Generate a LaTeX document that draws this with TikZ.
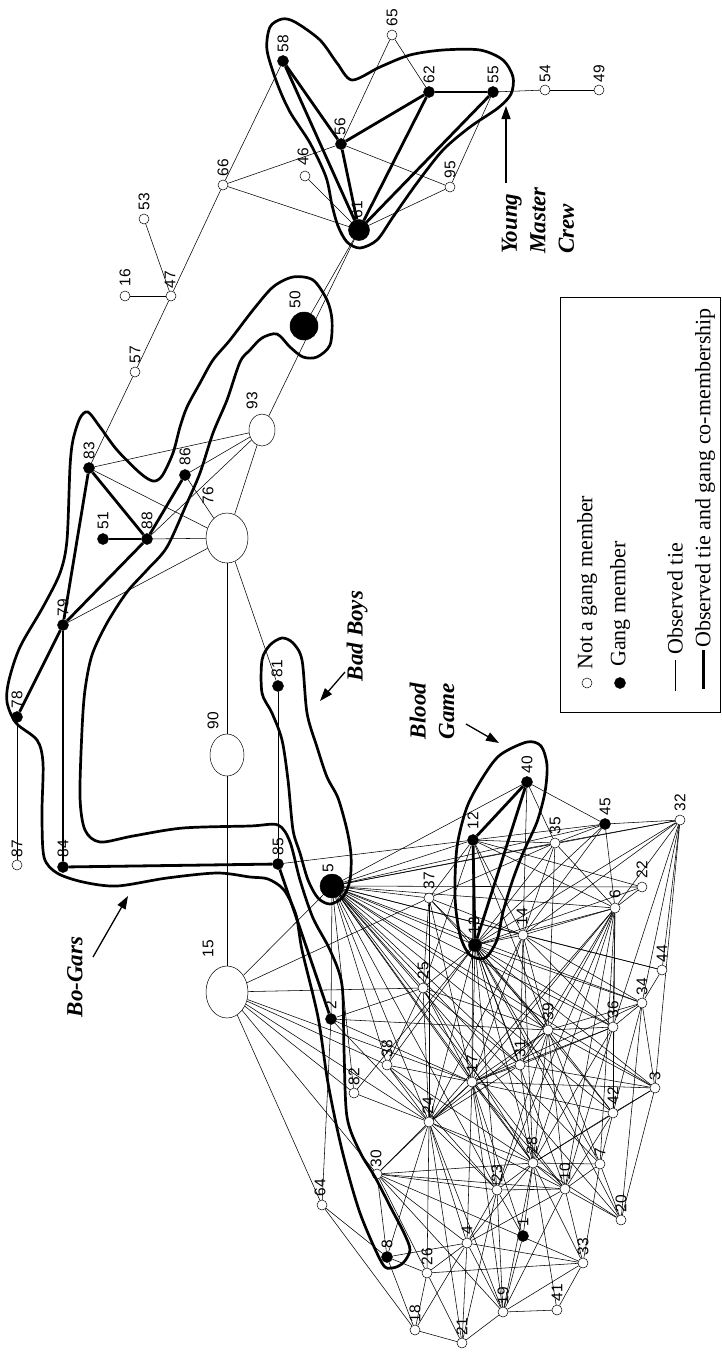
\documentclass[tikz,border=0pt]{standalone}
\usepackage{fontspec}
\setmainfont{Liberation Serif}
\newfontfamily\labfont{Liberation Sans}
\usetikzlibrary{arrows.meta, shapes.geometric, backgrounds, calc}

\begin{document}
\begin{tikzpicture}[x=1pt, y=-1pt,
    nonmem/.style={circle, draw, fill=white, line width=0.5pt, inner sep=0pt, minimum size=10pt},
    mem/.style={circle, draw, fill=black, line width=0.5pt, inner sep=0pt, minimum size=11pt},
    bignon/.style={ellipse, draw, fill=white, line width=0.5pt, inner sep=0pt},
    lab/.style={rotate=90, anchor=west, inner sep=0.5pt, font=\labfont\fontsize{15.5}{15.5}\selectfont},
    tie/.style={line width=0.55pt},
    cotie/.style={line width=2.8pt},
    hull/.style={line width=2.7pt, line join=round},
    gang/.style={rotate=90, font=\fontsize{23}{28.5}\selectfont\bfseries\itshape, align=left, inner sep=0pt},
    pointer/.style={line width=1.3pt, -{Triangle[length=13pt, width=9pt]}},
    legtext/.style={rotate=90, anchor=west, inner sep=0pt, font=\fontsize{22}{22}\selectfont}
  ]
    \useasboundingbox (0,0) rectangle (722,1353);

    % gang members
    \foreach \n/\x/\y/\lx/\ly in {58/283/61/283/53, 56/341/144/340/136, 62/429/92/429/84,
        55/493/92/493/84, 83/89/468/89/460, 86/185/475/185/466, 51/103/539/103/530,
        88/147/539/147/530, 79/63/625/63/617, 81/278/686/277/678, 78/17/717/17/709,
        84/63/867/63/858, 85/278/864/278/856, 12/473/840/473/830, 40/527/782/527/774,
        45/605/824/605/816, 2/331/1019/331/1010, 1/523/1236/523/1227, 8/387/1257/387/1249}
    {
      \node[mem] (n\n) at (\x,\y) {};
      \node[lab] at (\lx,\ly) {\n};
    }
    \node[mem, minimum size=21pt] (n61) at (359,230) {};
    \node[lab] at (357,219) {61};
    \node[mem, minimum size=28pt] (n50) at (304,326) {};
    \node[lab] at (295,309) {50};
    \node[mem, minimum size=24pt] (n5) at (332,886) {};
    \node[lab] at (328,873) {5};
    \node[mem, minimum size=13pt] (n13) at (475,945) {};
    \node[lab] at (474,935) {13};

    % not gang members
    \foreach \n/\x/\y/\lx/\ly in {65/392/35/392/27, 54/545/90/545/83, 49/599/90/599/83,
        95/450/187/450/179, 46/305/176/303/166, 66/223/185/223/177, 53/144/219/144/211,
        47/171/296/170/289, 16/125/296/125/287, 57/135/372/135/364, 87/17/865/17/858,
        35/555/843/555/835, 32/680/820/680/812, 37/429/898/429/890, 22/642/887/642/879,
        6/615/908/615/899, 14/523/935/522/926, 44/662/970/662/963, 25/423/988/423/980,
        34/642/1003/642/996, 36/613/1027/613/1019, 39/548/1030/548/1021, 38/387/1065/387/1058,
        31/520/1065/520/1058, 17/472/1082/472/1073, 3/655/1088/655/1081, 82/354/1093/354/1086,
        42/613/1113/613/1105, 24/429/1122/428/1115, 28/533/1163/532/1155, 7/600/1164/600/1157,
        30/377/1174/376/1168, 23/497/1190/497/1183, 10/565/1189/565/1181, 64/322/1205/320/1197,
        20/621/1220/621/1213, 4/467/1243/467/1235, 33/583/1263/583/1256, 26/427/1273/427/1266,
        41/557/1310/557/1302, 19/503/1312/503/1305, 18/415/1330/415/1323, 21/462/1343/462/1336}
    {
      \node[nonmem] (n\n) at (\x,\y) {};
      \node[lab] at (\lx,\ly) {\n};
    }
    \node[bignon, minimum width=26pt, minimum height=32pt] (n93) at (262,430) {};
    \node[lab] at (252,410) {93};
    \node[bignon, minimum width=42pt, minimum height=50pt] (n76) at (227,538) {};
    \node[lab] at (208,505) {76};
    \node[bignon, minimum width=34pt, minimum height=42pt] (n90) at (227,755) {};
    \node[lab] at (213,730) {90};
    \node[bignon, minimum width=42pt, minimum height=52pt] (n15) at (227,992) {};
    \node[lab] at (208,958) {15};

    \begin{scope}[on background layer]
      % observed ties
      \foreach \a/\b in {66/58, 66/56, 66/61, 66/47, 46/61, 47/16, 47/53, 47/57, 57/83, 65/62,
          65/56, 56/95, 95/61, 95/55, 54/55, 54/49, 61/50, 61/93, 93/83, 93/86, 93/88, 93/76,
          76/83, 76/88, 76/79, 76/86, 76/90, 76/81, 90/15, 85/81, 78/87, 85/12,
          5/12, 5/37, 5/35, 5/45, 5/40, 5/32, 5/22, 5/6, 5/14, 5/13, 5/44, 5/34, 5/36, 5/39,
          5/31, 5/17, 5/3, 5/42, 5/28, 5/10, 5/7, 5/20, 5/23, 5/25, 5/24, 5/2, 5/15, 5/82, 5/38,
          15/25, 15/37, 15/38, 15/17, 15/24, 15/30, 15/64, 15/82,
          40/45, 40/35, 40/14, 45/6, 45/35, 45/14, 45/13, 45/12, 45/32,
          32/6, 32/44, 32/34, 32/36, 32/3, 32/14, 32/13, 32/35, 22/6, 22/13, 22/12,
          6/14, 6/13, 6/35, 6/12, 6/17, 6/39, 6/31, 6/28, 6/24, 6/10, 6/7, 6/36, 6/42, 6/23,
          35/14, 35/13, 35/12, 35/39, 35/37,
          14/13, 14/12, 14/37, 14/17, 14/24, 14/28, 14/39, 14/31, 14/36, 14/34, 14/44,
          37/25, 37/13, 37/12, 37/17, 37/39, 37/24,
          25/2, 25/17, 25/24, 25/38, 25/13, 25/39, 25/28, 25/31, 25/12,
          2/39, 2/64, 2/24, 2/17, 38/24, 38/17, 38/13, 38/28, 38/23, 82/24, 82/13,
          17/24, 17/28, 17/39, 17/31, 17/23, 17/10, 17/13, 17/12, 17/3, 17/42, 17/36, 17/34,
          17/4, 17/19, 17/1, 17/30,
          24/30, 24/23, 24/28, 24/4, 24/19, 24/26, 24/8, 24/13, 24/39, 24/31, 24/10, 24/21,
          28/23, 28/10, 28/7, 28/20, 28/4, 28/19, 28/1, 28/33, 28/41, 28/39, 28/42, 28/3,
          28/30, 28/13, 28/31, 28/36,
          39/31, 39/36, 39/34, 39/3, 39/42, 39/13, 39/12, 39/10, 39/7, 39/23,
          13/31, 13/36, 13/34, 13/3, 13/42, 13/10, 13/7, 13/20, 13/23,
          34/36, 34/3, 34/44, 34/42, 34/20, 3/42, 3/31, 3/20, 42/7, 42/10, 36/42, 36/10, 36/31,
          10/23, 10/20, 10/7, 10/33, 10/4, 10/19, 10/30, 7/20, 7/33,
          23/30, 23/4, 23/19, 23/1, 23/21, 30/8, 30/26, 30/4, 30/33, 30/19,
          4/26, 4/19, 4/33, 4/18, 4/21, 4/8, 1/19, 8/26, 8/18, 26/18, 26/21, 26/33,
          19/41, 19/21, 19/33, 41/33, 18/21, 64/18, 64/8}
        \draw[tie] (n\a) -- (n\b);

      % observed tie and gang co-membership
      \foreach \a/\b in {58/56, 58/61, 56/61, 56/62, 61/62, 61/55, 62/55, 83/88, 83/79, 51/88,
          88/86, 88/79, 79/78, 79/84, 84/85, 85/2, 12/13, 12/40, 13/40}
        \draw[cotie] (n\a) -- (n\b);
    \end{scope}

    % Young Master Crew
    \draw[hull] plot[smooth cycle] coordinates {(270,27) (282,19) (295,22) (320,40) (337,63)
        (352,80) (380,67) (410,55) (443,50) (480,50) (503,60) (513,77) (511,94) (498,108)
        (470,127) (443,150) (417,183) (393,217) (377,240) (360,248) (347,242) (338,226)
        (332,205) (326,177) (310,143) (290,112) (277,83) (267,50)};

    % Bo-Gars
    \draw[hull] plot[smooth cycle] coordinates {(293,277) (313,280) (327,300) (332,320)
        (330,345) (317,357) (303,357) (290,347) (277,334) (262,338) (250,350) (240,362)
        (227,400) (213,433) (200,473) (187,503) (167,547) (147,570) (127,592) (107,623)
        (92,655) (85,690) (82,730) (80,797) (85,830) (100,842) (133,836) (183,828) (250,826)
        (278,825) (290,842) (300,880) (313,918) (330,950) (342,985) (344,1050) (347,1117)
        (360,1152) (375,1177) (391,1208) (404,1233) (410,1250) (403,1263) (392,1268)
        (382,1263) (360,1213) (342,1150) (328,1083) (318,1017) (302,950) (296,915)
        (284,890) (268,879) (250,877) (217,873) (167,878) (117,886) (83,882) (57,873)
        (44,857) (42,813) (43,763) (37,740) (16,723) (7,702) (9,680) (20,647) (43,607)
        (60,573) (67,540) (70,467) (73,440) (80,418) (88,412) (100,427) (117,450) (140,473)
        (153,481) (162,476) (173,453) (180,427) (187,407) (200,383) (213,360) (230,340)
        (253,310) (273,287)};

    % Bad Boys
    \draw[hull] plot[smooth cycle] coordinates {(262,660) (270,645) (282,638) (293,643)
        (302,660) (307,713) (317,747) (327,777) (338,798) (347,830) (351,855) (350,880)
        (343,897) (330,904) (318,898) (308,880) (300,853) (293,830) (288,780) (282,740)
        (272,713) (262,693)};

    % Blood Game
    \draw[hull] plot[smooth cycle] coordinates {(527,742) (541,746) (547,765) (545,792)
        (537,822) (523,853) (512,882) (503,912) (497,940) (485,958) (470,955) (460,935)
        (455,897) (457,847) (467,807) (483,777) (500,755)};

    % gang names
    \node[gang, anchor=west] (ymc) at (538,254) {Young\\Master\\Crew};
    \node[gang] (bogars) at (75,977) {Bo-Gars};
    \node[gang] (badboys) at (357,636) {Bad Boys};
    \node[gang, align=center] (blood) at (432,711) {Blood\\Game};

    \coordinate (ymctail) at (506,183);
    \coordinate (ymctip) at (506,106);
    \coordinate (bgtail) at (93,957);
    \coordinate (bgtip) at (128,896);
    \coordinate (bbtail) at (345,672);
    \coordinate (bbtip) at (320,701);
    \coordinate (bltail) at (466,724);
    \coordinate (bltip) at (499,743);
    \draw[pointer] (ymctail) -- (ymctip);
    \draw[pointer] (bgtail) -- (bgtip);
    \draw[pointer] (bbtail) -- (bbtip);
    \draw[pointer] (bltail) -- (bltip);

    % legend
    \draw[line width=0.8pt] (560,297) rectangle (720,712);
    \node[nonmem] (legnon) at (587,683) {};
    \node[mem] (legmem) at (620,683) {};
    \coordinate (legtiea) at (675,660);
    \coordinate (legtieb) at (675,691);
    \coordinate (legcoa) at (703,650);
    \coordinate (legcob) at (703,689);
    \draw[tie] (legtiea) -- (legtieb);
    \draw[line width=3pt] (legcoa) -- (legcob);
    \node[legtext] at (587,670) {Not a gang member};
    \node[legtext] at (620,667) {Gang member};
    \node[legtext] at (675,655) {Observed tie};
    \node[legtext] at (705,648) {Observed tie and gang co-membership};

  \end{tikzpicture}
\end{document}
